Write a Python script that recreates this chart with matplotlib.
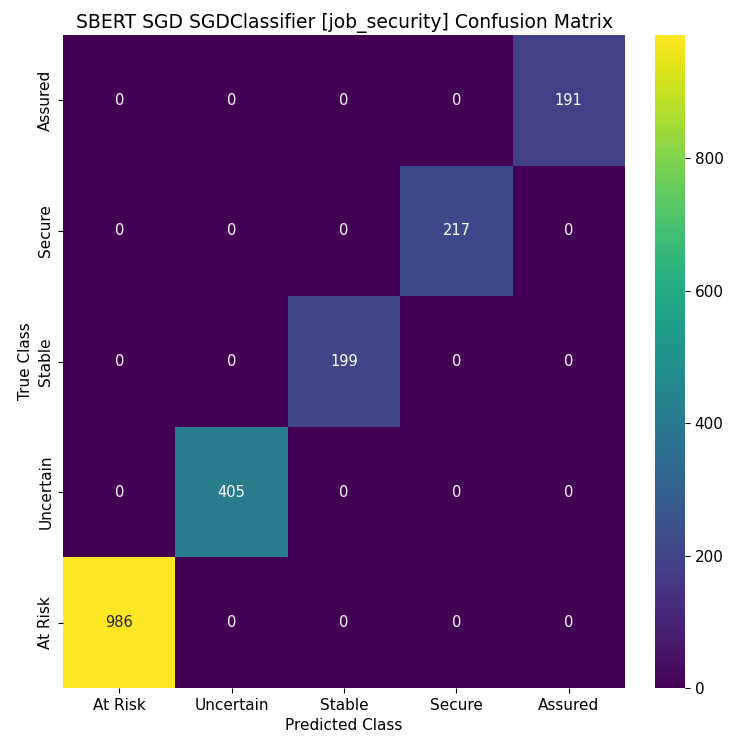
import matplotlib
matplotlib.use("Agg")
import matplotlib.pyplot as plt
import seaborn as sns
import numpy as np

true_labels = ["Assured", "Secure", "Stable", "Uncertain", "At Risk"]
pred_labels = ["At Risk", "Uncertain", "Stable", "Secure", "Assured"]
row_assured = [0, 0, 0, 0, 191]
row_secure = [0, 0, 0, 217, 0]
row_stable = [0, 0, 199, 0, 0]
row_uncertain = [0, 405, 0, 0, 0]
row_atrisk = [986, 0, 0, 0, 0]

cm = np.array([row_assured, row_secure, row_stable, row_uncertain, row_atrisk])

fig = plt.figure(figsize=(7.37, 7.38), dpi=100)
ax = fig.add_axes([63/737, 1-688/738, (625-63)/737, (688-35)/738])
cax = fig.add_axes([655/737, 1-688/738, (685-655)/737, (688-35)/738])
sns.heatmap(cm, annot=True, fmt="d", cmap="viridis", ax=ax, cbar_ax=cax,
            xticklabels=pred_labels, yticklabels=true_labels,
            annot_kws={"fontsize": 10.5})
ax.set_title("SBERT SGD SGDClassifier [job_security] Confusion Matrix", fontsize=13.5, pad=5)
ax.set_xlabel("Predicted Class", fontsize=11)
ax.set_ylabel("True Class", fontsize=11)
ax.tick_params(labelsize=11)
cax.tick_params(labelsize=11)
cax.set_yticks([0, 200, 400, 600, 800])
fig.savefig("out.png", dpi=100)
